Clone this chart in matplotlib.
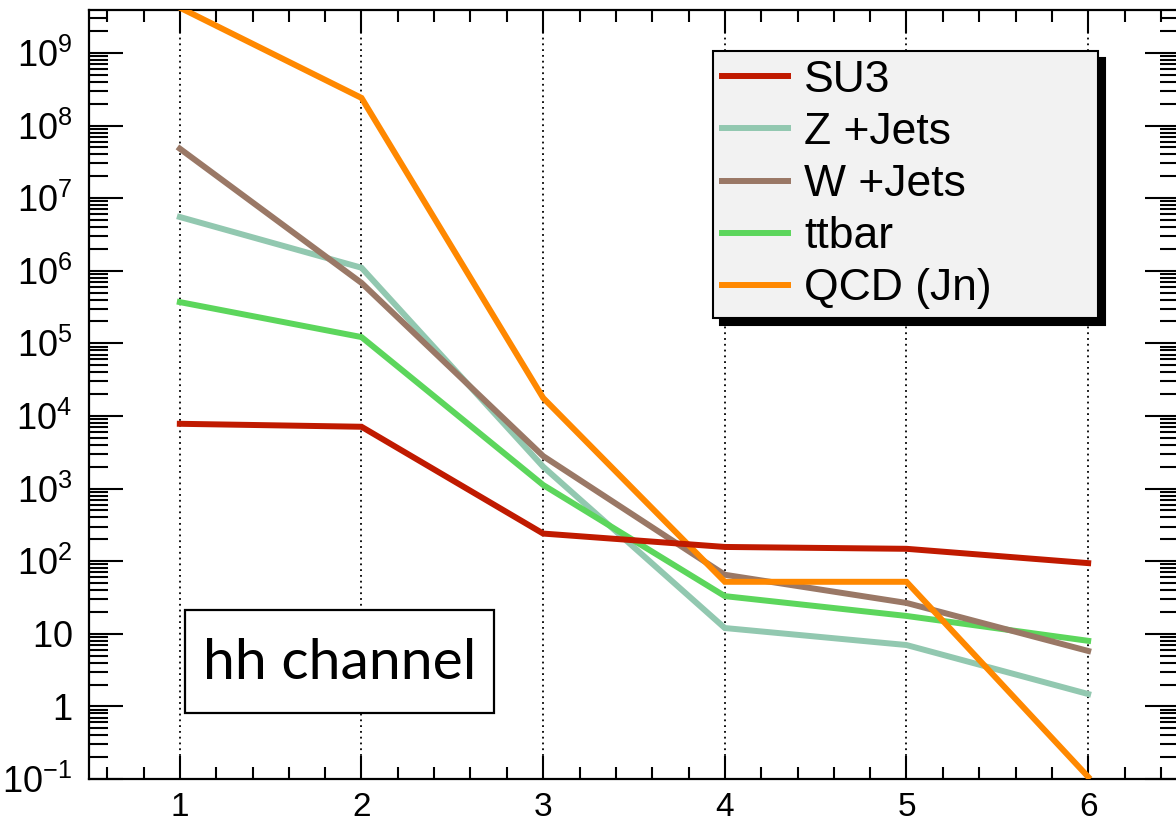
import matplotlib
matplotlib.use("Agg")
import math
import matplotlib.pyplot as plt
from matplotlib.ticker import LogLocator, MultipleLocator, FuncFormatter, NullFormatter
from matplotlib.patches import Rectangle

# Values (one point per x bin)
x_bins = [1, 2, 3, 4, 5, 6]
su3 = [7.8e3, 7.1e3, 240, 157, 148, 94]
z_jets = [5.5e6, 1.1e6, 2.0e3, 12, 7.0, 1.48]
w_jets = [4.8e7, 6.8e5, 2.8e3, 65, 26.6, 5.8]
ttbar = [3.7e5, 1.22e5, 1.12e3, 33, 17.6, 8.0]
qcd = [4.2e9, 2.4e8, 1.77e4, 52, 52, 0.107]

labels = ['SU3', 'Z +Jets', 'W +Jets', 'ttbar', 'QCD (Jn)']
colors = ['#c01a00', '#92c8b0', '#9a7866', '#5cd65c', '#ff8800']
y_tick_text = {-1: '10^{-1}', 0: '1', 1: '10'}

plt.rcParams['font.family'] = ['Liberation Sans', 'DejaVu Sans']
plt.rcParams['mathtext.fontset'] = 'custom'
plt.rcParams['mathtext.rm'] = 'Liberation Sans'

fig = plt.figure(figsize=(11.76, 8.21), dpi=100)
ax = fig.add_axes([89 / 1176, 42 / 821, 1090 / 1176, 769 / 821])

lw = 4.3
series = [su3, z_jets, w_jets, ttbar, qcd]
order = [1, 3, 2, 4, 0]  # drawing order for the crossing lines
lines = {}
for i in order:
    ln, = ax.plot(x_bins, series[i], color=colors[i], lw=lw, label=labels[i],
                  solid_joinstyle='miter', zorder=3 + order.index(i))
    lines[i] = ln

ax.set_yscale('log')
ax.set_xlim(0.5, 6.5)
ax.set_ylim(0.1, 3.9e9)

# vertical grid only
for xv in x_bins:
    ax.axvline(xv, color='black', lw=1.3, ls=(0, (1, 2.2)), zorder=1)

ax.xaxis.set_major_locator(MultipleLocator(1))
ax.xaxis.set_minor_locator(MultipleLocator(0.2))
ax.yaxis.set_major_locator(LogLocator(base=10, numticks=30))
ax.yaxis.set_minor_locator(LogLocator(base=10, subs=[2, 3, 4, 5, 6, 7, 8, 9], numticks=30))
ax.yaxis.set_minor_formatter(NullFormatter())


def ylab(v, pos):
    e = int(round(math.log10(v)))
    txt = y_tick_text.get(e, '10^{%d}' % e)
    return r'$\mathregular{%s}$' % txt


ax.yaxis.set_major_formatter(FuncFormatter(ylab))
ax.xaxis.set_major_formatter(FuncFormatter(lambda v, p: '%d' % v))

ax.tick_params(which='both', direction='in', top=True, right=True, width=1.5, color='black')
ax.tick_params(axis='y', which='major', length=24.5, labelsize=26, pad=12)
ax.tick_params(axis='y', which='minor', length=13.5)
ax.tick_params(axis='x', which='major', length=16.5, labelsize=24, pad=9)
ax.tick_params(axis='x', which='minor', length=8.5)
for sp in ax.spines.values():
    sp.set_linewidth(1.6)

# legend
handles = [lines[i] for i in range(5)]
leg = ax.legend(handles, labels, loc='upper left',
                bbox_to_anchor=(0.5725, 0.5826, 0.3532, 0.3641), mode='expand',
                borderaxespad=0, fontsize=32, handlelength=1.49, handletextpad=0.36,
                borderpad=0.2, labelspacing=0.25, fancybox=False, framealpha=1,
                facecolor='#f2f2f2', edgecolor='black',
                shadow={'ox': 5, 'oy': -5, 'color': 'black', 'alpha': 1})
leg.get_frame().set_linewidth(1.5)
leg.set_zorder(10)

# channel label box
ax.add_patch(Rectangle((0.088, 0.0858), 0.2836, 0.134, transform=ax.transAxes,
                       facecolor='white', edgecolor='black', lw=1.6, zorder=9))
ax.text(0.2298, 0.150, 'hh channel', transform=ax.transAxes, ha='center', va='center',
        fontsize=41, family=['Lato', 'DejaVu Sans'], zorder=10)

fig.savefig('out.png', dpi=100)
